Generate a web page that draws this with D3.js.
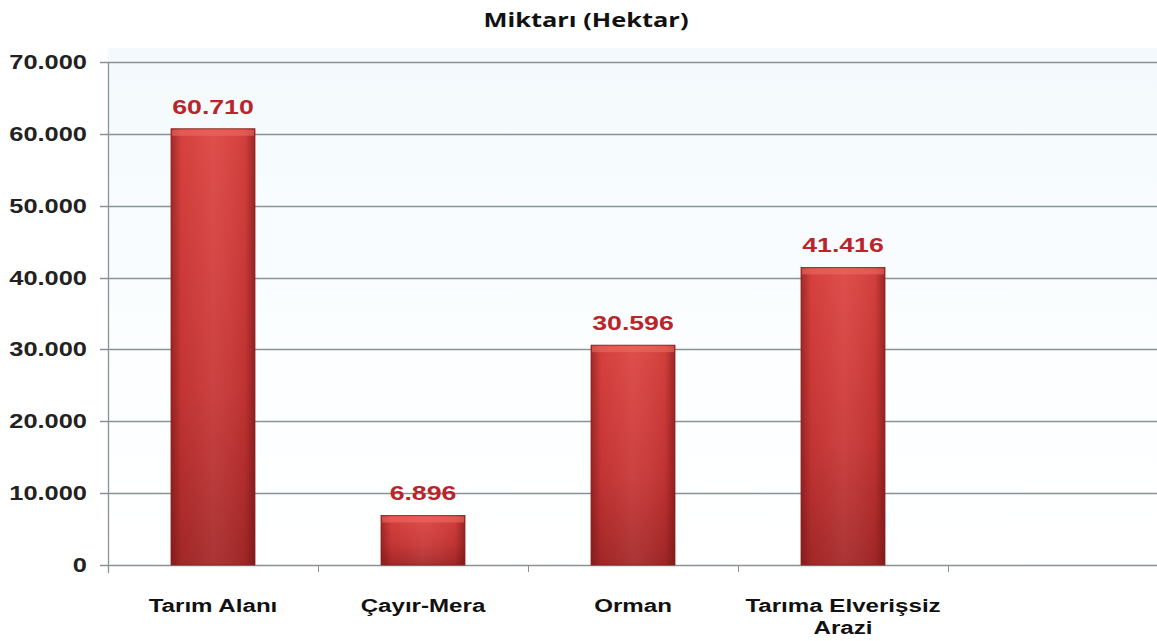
<!DOCTYPE html>
<html>
<head>
<meta charset="utf-8">
<script src="https://cdn.jsdelivr.net/npm/d3@7"></script>
<style>
  body { margin: 0; background: #fff; }
  svg { display: block; font-family: "Liberation Sans", Arial, sans-serif; }
  .ylab { font-size: 20px; font-weight: bold; fill: #222; }
  .xlab { font-size: 19px; font-weight: bold; fill: #111; }
  .val { font-size: 21px; font-weight: bold; fill: #b8262c; }
  .title { font-family: "Open Sans", sans-serif; font-size: 20px; font-weight: bold; fill: #111; }
</style>
</head>
<body>
<svg id="chart"></svg>
<script>
(function() {
  'use strict';
  const W = 1157, H = 641;
  const margin = {top: 62, right: -1, bottom: 76, left: 108};
  const width = W - margin.left - margin.right;
  const height = H - margin.top - margin.bottom;
  const stretch = 1.27; // source picture is stretched horizontally

  // categories (5th slot is empty in the original chart)
  const categories = ['Tarım Alanı', 'Çayır-Mera', 'Orman', 'Tarıma Elverişsiz Arazi', ''];
  const values = [60710, 6896, 30596, 41416];
  const yTicks = [0, 10000, 20000, 30000, 40000, 50000, 60000, 70000];
  const title = 'Miktarı (Hektar)';

  const fmt = d => d3.format(',')(d).replace(/,/g, '.');
  const place = (px, py) => `translate(${px},${py}) scale(${stretch},1)`;

  const svg = d3.select('#chart')
    .attr('width', W)
    .attr('height', H);

  const defs = svg.append('defs');
  const bg = defs.append('linearGradient')
    .attr('id', 'bg').attr('x1', 0).attr('y1', 0).attr('x2', 0).attr('y2', 1);
  bg.append('stop').attr('offset', '0%').attr('stop-color', '#f3f9fc');
  bg.append('stop').attr('offset', '60%').attr('stop-color', '#fcfeff');
  bg.append('stop').attr('offset', '100%').attr('stop-color', '#ffffff');

  const vgrad = defs.append('linearGradient')
    .attr('id', 'barV').attr('x1', 0).attr('y1', 0).attr('x2', 0).attr('y2', 1);
  vgrad.append('stop').attr('offset', '0%').attr('stop-color', '#dc4440');
  vgrad.append('stop').attr('offset', '60%').attr('stop-color', '#c83636');
  vgrad.append('stop').attr('offset', '100%').attr('stop-color', '#a52828');

  const hgrad = defs.append('linearGradient')
    .attr('id', 'barH').attr('x1', 0).attr('y1', 0).attr('x2', 1).attr('y2', 0);
  hgrad.append('stop').attr('offset', '0%').attr('stop-color', '#5a0c0c').attr('stop-opacity', 0.45);
  hgrad.append('stop').attr('offset', '12%').attr('stop-color', '#5a0c0c').attr('stop-opacity', 0.05);
  hgrad.append('stop').attr('offset', '50%').attr('stop-color', '#ffffff').attr('stop-opacity', 0.06);
  hgrad.append('stop').attr('offset', '88%').attr('stop-color', '#5a0c0c').attr('stop-opacity', 0.08);
  hgrad.append('stop').attr('offset', '100%').attr('stop-color', '#5a0c0c').attr('stop-opacity', 0.5);

  svg.append('text')
    .attr('class', 'title')
    .attr('transform', place(586, 27))
    .attr('text-anchor', 'middle')
    .text(title);

  const g = svg.append('g')
    .attr('transform', `translate(${margin.left},${margin.top})`);

  const x = d3.scaleBand()
    .domain(d3.range(categories.length))
    .range([0, width])
    .paddingInner(0.6)
    .paddingOuter(0.3);

  const y = d3.scaleLinear()
    .domain([0, 70000])
    .range([height, 0]);

  g.append('rect')
    .attr('x', 0).attr('y', -14)
    .attr('width', width).attr('height', height + 14)
    .attr('fill', 'url(#bg)');

  // gridlines
  g.selectAll('.grid')
    .data(yTicks)
    .enter()
    .append('line')
      .attr('class', 'grid')
      .attr('x1', -8)
      .attr('x2', width)
      .attr('y1', d => Math.round(y(d)) + 0.5)
      .attr('y2', d => Math.round(y(d)) + 0.5)
      .attr('stroke', '#8a9294')
      .attr('stroke-width', 1.3);

  // y axis line
  g.append('line')
    .attr('x1', 0.5).attr('x2', 0.5)
    .attr('y1', 0).attr('y2', height + 8)
    .attr('stroke', '#8a9294').attr('stroke-width', 1.3);

  // x tick marks at band boundaries
  g.selectAll('.xtick')
    .data(d3.range(categories.length + 1))
    .enter()
    .append('line')
      .attr('class', 'xtick')
      .attr('x1', i => Math.round(i * x.step()) + 0.5)
      .attr('x2', i => Math.round(i * x.step()) + 0.5)
      .attr('y1', height)
      .attr('y2', height + 7)
      .attr('stroke', '#8a9294');

  // y labels
  g.selectAll('.ylab')
    .data(yTicks)
    .enter()
    .append('text')
      .attr('class', 'ylab')
      .attr('text-anchor', 'end')
      .attr('transform', d => place(-21, y(d) + 7))
      .text(d => d === 0 ? '0' : fmt(d));

  // bars
  const bars = g.selectAll('.bar')
    .data(values)
    .enter()
    .append('g')
      .attr('class', 'bar');

  bars.append('rect')
    .attr('x', (d, i) => x(i))
    .attr('y', d => y(d))
    .attr('width', x.bandwidth())
    .attr('height', d => height - y(d))
    .attr('fill', 'url(#barV)');

  bars.append('rect')
    .attr('x', (d, i) => x(i))
    .attr('y', d => y(d))
    .attr('width', x.bandwidth())
    .attr('height', d => height - y(d))
    .attr('fill', 'url(#barH)')
    .attr('stroke', '#8e2020')
    .attr('stroke-width', 0.8);

  // lighter top face
  bars.append('rect')
    .attr('x', (d, i) => x(i) + 1)
    .attr('y', d => y(d) + 1)
    .attr('width', x.bandwidth() - 2)
    .attr('height', 6)
    .attr('fill', '#ec6a62')
    .attr('opacity', 0.6);

  bars.append('text')
    .attr('class', 'val')
    .attr('text-anchor', 'middle')
    .attr('transform', (d, i) => place(x(i) + x.bandwidth() / 2, y(d) - 15))
    .text(fmt);

  // category labels
  const xl = g.selectAll('.xlab')
    .data(categories)
    .enter()
    .append('text')
      .attr('class', 'xlab')
      .attr('text-anchor', 'middle')
      .attr('transform', (d, i) => place(x(i) + x.bandwidth() / 2, height + 47));

  xl.each(function(d) {
    const t = d3.select(this);
    const parts = d === 'Tarıma Elverişsiz Arazi' ? ['Tarıma Elverişsiz', 'Arazi'] : [d];
    parts.forEach((p, k) => {
      t.append('tspan')
        .attr('x', 0)
        .attr('dy', k === 0 ? 0 : 22)
        .text(p);
    });
  });
})();
</script>
</body>
</html>
